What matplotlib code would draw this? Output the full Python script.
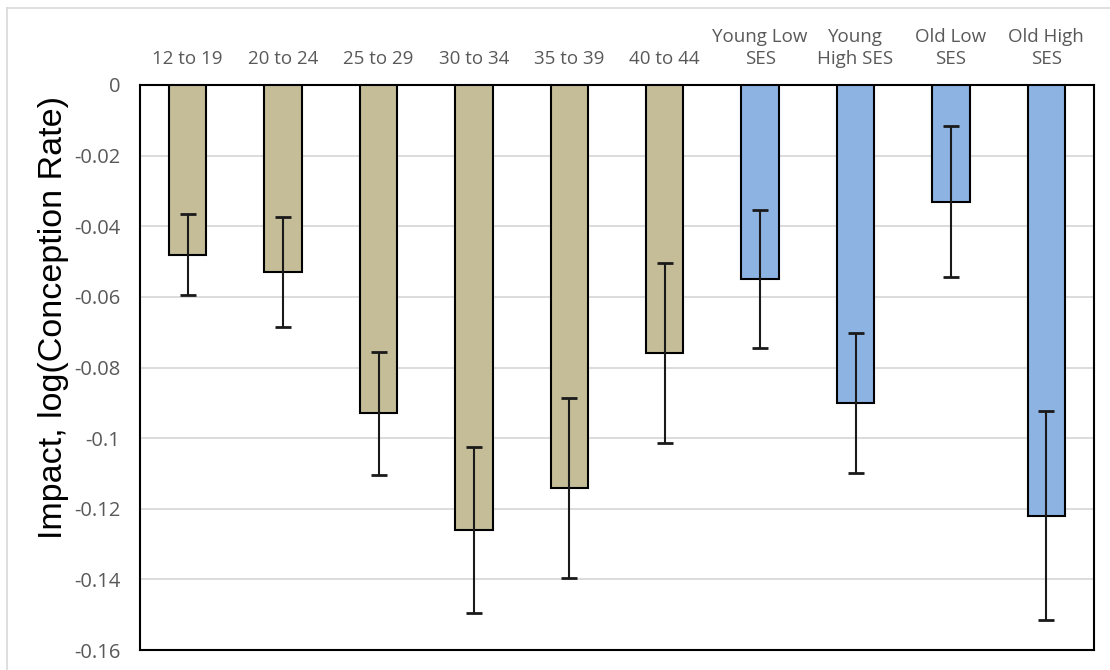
import matplotlib
matplotlib.use("Agg")
import matplotlib.pyplot as plt
from matplotlib.lines import Line2D

categories = ["12 to 19", "20 to 24", "25 to 29", "30 to 34", "35 to 39", "40 to 44",
              "Young Low\nSES", "Young\nHigh SES", "Old Low\nSES", "Old High\nSES"]
values = [-0.048, -0.053, -0.093, -0.126, -0.114, -0.076, -0.055, -0.090, -0.033, -0.122]
errors = [0.0116, 0.0156, 0.0175, 0.0235, 0.0255, 0.0255, 0.0195, 0.0198, 0.0215, 0.0296]
groups = ["age"] * 6 + ["ses"] * 4
yticks = [0, -0.02, -0.04, -0.06, -0.08, -0.1, -0.12, -0.14, -0.16]
ytick_labels = ["0", "-0.02", "-0.04", "-0.06", "-0.08", "-0.1", "-0.12", "-0.14", "-0.16"]

colors = {"age": "#C4BD97", "ses": "#8DB3E2"}

fig = plt.figure(figsize=(11.1, 6.7), dpi=100)
ax = fig.add_axes([140 / 1110, 1 - 650 / 670, 954 / 1110, 565 / 670])

x = list(range(len(categories)))
ax.bar(x, values, width=0.39, color=[colors[g] for g in groups],
       edgecolor="black", linewidth=1.5, zorder=3)
ax.errorbar(x, values, yerr=errors, fmt="none", ecolor="#1a1a1a",
            elinewidth=1.5, capsize=6, capthick=2, zorder=4)

ax.set_xlim(-0.5, len(categories) - 0.5)
ax.set_ylim(-0.16, 0)
ax.set_yticks(yticks)
ax.set_yticklabels(ytick_labels, fontsize=14.5, color="#595959", family="Open Sans")
ax.grid(axis="y", color="#d9d9d9", linewidth=1.3, zorder=0)
ax.set_axisbelow(True)

ax.xaxis.tick_top()
ax.set_xticks(x)
ax.set_xticklabels(categories, fontsize=13.5, color="#595959", family="Open Sans",
                   linespacing=1.3)
ax.tick_params(axis="x", length=0, pad=12)
ax.tick_params(axis="y", length=0, pad=14)

for s in ax.spines.values():
    s.set_color("black")
    s.set_linewidth(1.5)

ax.set_ylabel("Impact, log(Conception Rate)", fontsize=24.5, family="Liberation Sans",
              color="black")
ax.yaxis.set_label_coords(-0.074, 0.588)

# outer chart border (light gray)
fig.add_artist(Line2D([7 / 1110, 1], [1 - 8 / 670, 1 - 8 / 670], color="#d9d9d9",
                      linewidth=1.2, transform=fig.transFigure))
fig.add_artist(Line2D([7 / 1110, 7 / 1110], [0, 1 - 8 / 670], color="#d9d9d9",
                      linewidth=1.2, transform=fig.transFigure))

fig.savefig("out.png", dpi=100)
